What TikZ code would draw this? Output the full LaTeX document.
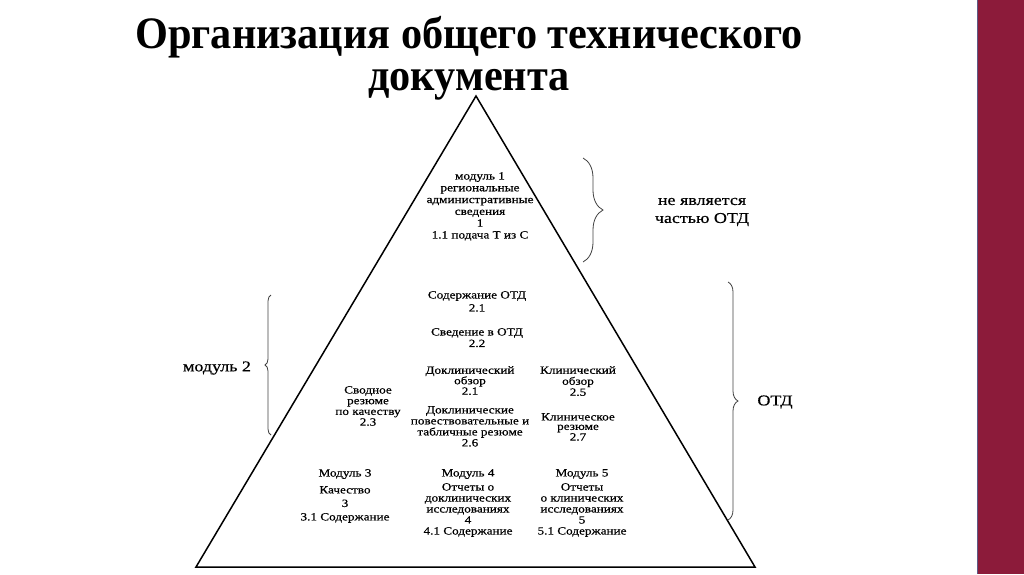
\documentclass[tikz,border=0pt]{standalone}
\usepackage{fontspec}
\setmainfont{Liberation Serif}
\newfontfamily\pyrfont[FakeStretch=1.2,FakeBold=0.6]{Liberation Serif}
\newfontfamily\headfont[FakeStretch=0.94]{Liberation Serif}
\usetikzlibrary{decorations.pathreplacing}
\definecolor{slidebar}{HTML}{8C1B3A}
\definecolor{barline}{HTML}{5E5A86}
\tikzset{
  blk/.style={align=center, inner sep=0pt, anchor=north, font=\pyrfont\fontsize{11}{#1}\selectfont},
  blk/.default=11.5,
  side/.style={align=center, inner sep=0pt, font=\pyrfont\fontsize{15}{18}\selectfont},
  headline/.style={align=center, anchor=north, inner sep=0pt, font=\headfont\bfseries\fontsize{45}{42}\selectfont},
  curly/.style={decorate, decoration={brace, amplitude=#1}, draw=black!75, line width=0.8pt},
}
\begin{document}
\begin{tikzpicture}[x=1pt, y=-1pt]
    \useasboundingbox (0,0) rectangle (1024,574);
    \fill[slidebar] (977,0) rectangle (1024,574);
    \draw[barline, line width=1pt] (977.5,0) -- (977.5,574);
    % title
    \node[headline] (title) at (469,16) {Организация общего технического\\документа};
    % pyramid
    \coordinate (apex) at (476,96);
    \coordinate (lcorner) at (196,567);
    \coordinate (rcorner) at (755,567);
    \draw[line width=1.5pt, line join=miter] (apex) -- (rcorner) -- (lcorner) -- cycle;
    \node[blk=11.8] (mod1) at (480,172) {модуль 1\\региональные\\административные\\сведения\\1\\1.1 подача Т из С};
    \node[blk=13] (otdcont) at (477,291) {Содержание ОТД\\2.1};
    \node[blk] (otdsum) at (477,328) {Сведение в ОТД\\2.2};
    \node[blk=10.5] (nonclin) at (470,366) {Доклинический\\обзор\\2.1};
    \node[blk=11] (clinov) at (578,366) {Клинический\\обзор\\2.5};
    \node[blk=10.7] (qos) at (368,386) {Сводное\\резюме\\по качеству\\2.3};
    \node[blk=11] (nonclinsum) at (470,406) {Доклинические\\повествовательные и\\табличные резюме\\2.6};
    \node[blk=9.5] (clinsum) at (578,413) {Клиническое\\резюме\\2.7};
    \node[blk] (mod3head) at (345,469) {Модуль 3};
    \node[blk] (mod4head) at (468,469) {Модуль 4};
    \node[blk] (mod5head) at (582,469) {Модуль 5};
    \node[blk=13.5] (mod3) at (345,486) {Качество\\3\\3.1 Содержание};
    \node[blk=11] (mod4) at (468,483) {Отчеты о\\доклинических\\исследованиях\\4\\4.1 Содержание};
    \node[blk=11] (mod5) at (582,483) {Отчеты\\о клинических\\исследованиях\\5\\5.1 Содержание};
    % braces
    \coordinate (nptop) at (583,158);
    \coordinate (npbot) at (583,262);
    \draw[curly=20pt] (nptop) -- (npbot);
    \node[side] (notpart) at (702,212) {не является\\частью ОТД};
    \coordinate (otdtop) at (728,282);
    \coordinate (otdbot) at (728,520);
    \draw[curly=10pt] (otdtop) -- (otdbot);
    \node[side] (otd) at (775,402) {ОТД};
    \coordinate (mtop) at (271,295);
    \coordinate (mbot) at (271,435);
    \draw[curly=6pt] (mbot) -- (mtop);
    \node[side] (mod2) at (217,368) {модуль 2};
\end{tikzpicture}
\end{document}
